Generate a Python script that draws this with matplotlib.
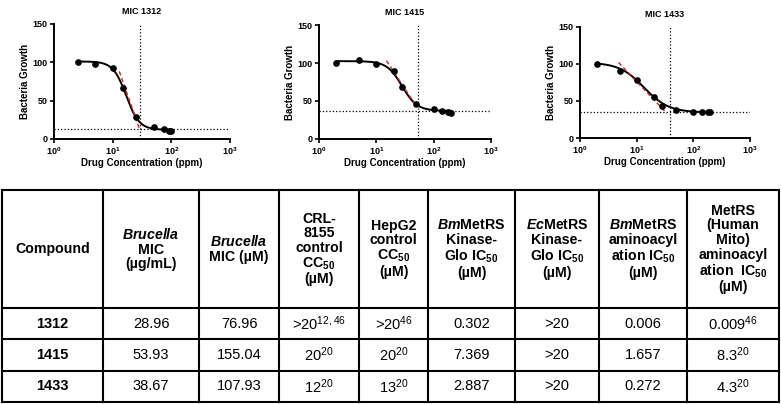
import numpy as np
import matplotlib.pyplot as plt

plt.rcParams['font.family'] = ['Liberation Sans', 'DejaVu Sans']
plt.rcParams['mathtext.fontset'] = 'custom'
plt.rcParams['mathtext.rm'] = 'Liberation Sans'
plt.rcParams['mathtext.bf'] = 'Liberation Sans:bold'
plt.rcParams['mathtext.it'] = 'Liberation Sans:bold:italic'
plt.rcParams['mathtext.default'] = 'regular'

# dose-response data
titles = ['MIC 1312', 'MIC 1415', 'MIC 1433']
conc_1312 = [2.6, 5, 10, 15, 25, 50, 75, 90, 100]
growth_1312 = [100, 98, 93, 67, 28, 16, 13, 11, 10]
conc_1415 = [2, 5, 10, 20, 28, 50, 100, 140, 180, 200]
growth_1415 = [100, 103.5, 98.5, 89, 68, 45.5, 40, 37, 36, 34]
conc_1433 = [2, 5, 10, 20, 28, 50, 100, 140, 180, 200]
growth_1433 = [100, 91, 78, 56, 43.5, 38.5, 35, 34.5, 34.5, 34.5]

# 4PL fit parameters: top, bottom, ec50, hill
fit_1312 = (101, 12, 17, 3.9)
fit_1415 = (102.5, 37, 28, 3.3)
fit_1433 = (102, 34.5, 13.5, 2.0)

mic_x = [29, 53, 38]
mic_y = [13, 37, 34.5]

# red dashed slope lines (x0, x1), (y0, y1)
slope_x = [(13, 29), (15, 51), (4.8, 34)]
slope_y = [(88, 12), (103, 42), (102, 33.5)]

# table
col_headers = ['Compound',
               '$\\mathit{Brucella}$\nMIC\n(µg/mL)',
               '$\\mathit{Brucella}$\nMIC (µM)',
               'CRL-\n8155\ncontrol\nCC$_{50}$\n(µM)',
               'HepG2\ncontrol\nCC$_{50}$\n(µM)',
               '$\\mathit{Bm}$MetRS\nKinase-\nGlo IC$_{50}$\n(µM)',
               '$\\mathit{Ec}$MetRS\nKinase-\nGlo IC$_{50}$\n(µM)',
               '$\\mathit{Bm}$MetRS\naminoacyl\nation IC$_{50}$\n(µM)',
               'MetRS\n(Human\nMito)\naminoacyl\nation  IC$_{50}$\n(µM)']
compounds = ['1312', '1415', '1433']
row_1312 = ['28.96', '76.96', '>20$^{12,46}$', '>20$^{46}$', '0.302', '>20', '0.006', '0.009$^{46}$']
row_1415 = ['53.93', '155.04', '20$^{20}$', '20$^{20}$', '7.369', '>20', '1.657', '8.3$^{20}$']
row_1433 = ['38.67', '107.93', '12$^{20}$', '13$^{20}$', '2.887', '>20', '0.272', '4.3$^{20}$']

fig = plt.figure(figsize=(7.81, 4.04), dpi=100)

positions = [[0.0691, 0.656, 0.2254, 0.285],
             [0.4085, 0.656, 0.2202, 0.282],
             [0.7426, 0.6584, 0.2177, 0.2748]]
concs = [conc_1312, conc_1415, conc_1433]
growths = [growth_1312, growth_1415, growth_1433]
fits = [fit_1312, fit_1415, fit_1433]

for i in range(3):
    ax = fig.add_axes(positions[i])
    top, bottom, ec50, hill = fits[i]
    xs = np.logspace(np.log10(min(concs[i])), np.log10(max(concs[i])), 200)
    ys = bottom + (top - bottom) / (1 + (xs / ec50) ** hill)
    ax.plot(xs, ys, color='black', lw=1.4, zorder=3)
    ax.plot(slope_x[i], slope_y[i], color='#d62020', lw=1.0, ls=(0, (3, 2)), zorder=4)
    ax.plot(concs[i], growths[i], 'o', color='black', ms=3.8, zorder=5)
    ax.axvline(mic_x[i], color='black', ls=':', lw=0.9)
    ax.axhline(mic_y[i], color='black', ls=':', lw=0.9)
    ax.set_xscale('log')
    ax.set_xlim(1, 1000)
    ax.set_ylim(0, 150)
    ax.set_xticks([1, 10, 100, 1000])
    ax.set_xticklabels(['10$^{0}$', '10$^{1}$', '10$^{2}$', '10$^{3}$'])
    ax.minorticks_off()
    ax.set_yticks([0, 50, 100, 150])
    ax.spines['top'].set_visible(False)
    ax.spines['right'].set_visible(False)
    ax.spines['left'].set_linewidth(1.4)
    ax.spines['bottom'].set_linewidth(1.4)
    ax.tick_params(width=1.2, length=3, labelsize=6.5, pad=1.5)
    for lab in ax.get_xticklabels() + ax.get_yticklabels():
        lab.set_fontweight('bold')
    ax.set_title(titles[i], fontsize=6.5, fontweight='bold', pad=7)
    ax.set_xlabel('Drug Concentration (ppm)', fontsize=7, fontweight='bold', labelpad=1)
    ax.set_ylabel('Bacteria Growth', fontsize=7, fontweight='bold', labelpad=2)

# table drawn in pixel coordinates
tax = fig.add_axes([0, 0, 1, 1])
tax.set_xlim(0, 781)
tax.set_ylim(404, 0)
tax.axis('off')

col_edges = [2, 103, 199, 279, 359, 428, 515, 599, 687, 779]
row_edges = [190, 308, 339, 371, 402]

for x in col_edges:
    tax.plot([x, x], [row_edges[0], row_edges[-1]], color='black', lw=1.5)
for y in row_edges:
    tax.plot([col_edges[0], col_edges[-1]], [y, y], color='black', lw=1.5)

yc = (row_edges[0] + row_edges[1]) / 2
for j, h in enumerate(col_headers):
    xc = (col_edges[j] + col_edges[j + 1]) / 2
    tax.text(xc, yc, h, ha='center', va='center', fontsize=10.2, fontweight='bold',
             linespacing=1.05, multialignment='center')

rows = [row_1312, row_1415, row_1433]
for r in range(3):
    yc = (row_edges[r + 1] + row_edges[r + 2]) / 2
    tax.text((col_edges[0] + col_edges[1]) / 2, yc, compounds[r], ha='center', va='center',
             fontsize=10.5, fontweight='bold')
    for j, v in enumerate(rows[r]):
        xc = (col_edges[j + 1] + col_edges[j + 2]) / 2
        tax.text(xc, yc, v, ha='center', va='center', fontsize=10.5)

fig.savefig('out.png', dpi=100)
